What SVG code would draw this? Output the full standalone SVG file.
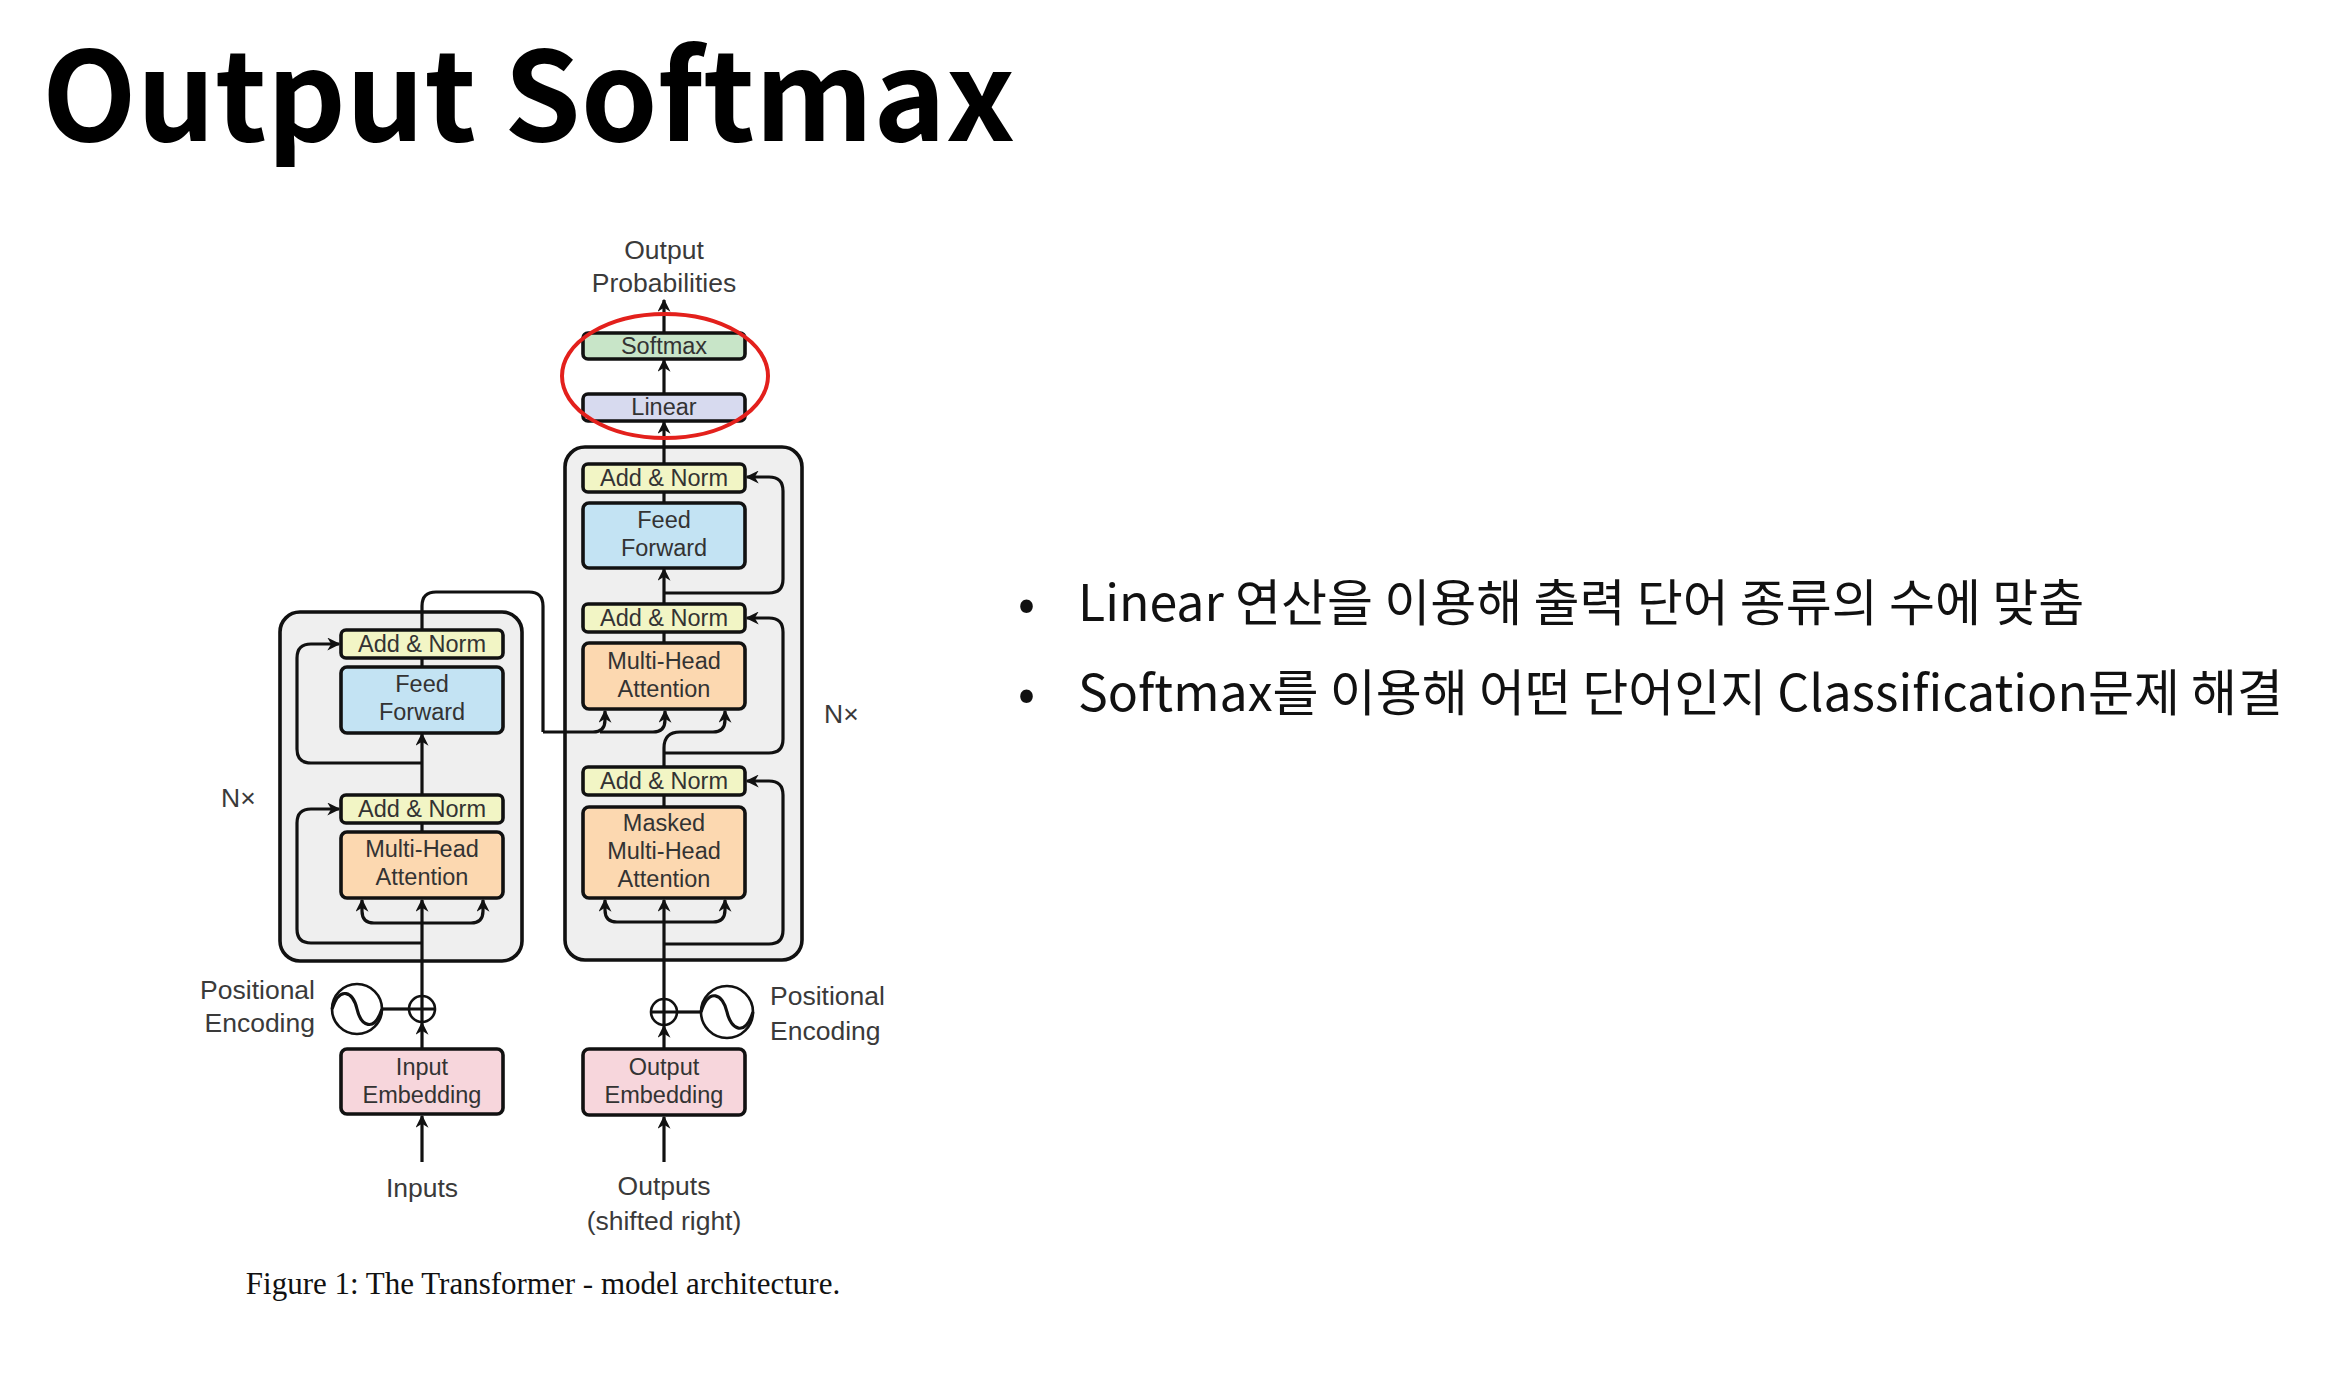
<svg xmlns="http://www.w3.org/2000/svg" width="2345" height="1385" viewBox="0 0 2345 1385">
  <style>
    .title { font-family: "Noto Sans CJK KR", "Noto Sans", sans-serif; font-weight: 700; font-size: 123px; fill: #000; }
    .bullet { font-family: "Noto Sans CJK KR", "Noto Sans", sans-serif; font-size: 50px; fill: #111; }
    .lbl { font-family: "Liberation Sans", Arial, sans-serif; font-size: 26.5px; fill: #3a3a3a; }
    .bx { font-family: "Liberation Sans", Arial, sans-serif; font-size: 23.5px; fill: #333; text-anchor: middle; }
    .cap { font-family: "Liberation Serif", "Times New Roman", serif; font-size: 31px; fill: #111; text-anchor: middle; }
    .box { stroke: #111; stroke-width: 3.6; }
    .outer { fill: #efefef; stroke: #111; stroke-width: 3.6; }
    .addnorm { fill: #f2f5c5; }
    .ff { fill: #c3e3f3; }
    .mha { fill: #fcd8b0; }
    .emb { fill: #f7d6dc; }
    .soft { fill: #c8e5c8; }
    .lin { fill: #d7daef; }
    .wire { fill: none; stroke: #111; stroke-width: 3.2; }
    .arr { fill: none; stroke: #111; stroke-width: 3.2; marker-end: url(#ah); }
    .circ { fill: #fff; stroke: #111; stroke-width: 2.6; }
  </style>
  <defs>
    <marker id="ah" viewBox="0 0 10 10" refX="9" refY="5" markerWidth="13" markerHeight="13" markerUnits="userSpaceOnUse" orient="auto">
      <path d="M0,0 L10,5 L0,10 L3,5 z" fill="#111"/>
    </marker>
  </defs>

  <rect width="2345" height="1385" fill="#fff"/>

  <!-- heading -->
  <text class="title" x="42" y="141">Output Softmax</text>

  <!-- bullet notes -->
  <g id="notes">
    <text class="bullet" x="1018" y="621">•</text>
    <text class="bullet" x="1078" y="621">Linear 연산을 이용해 출력 단어 종류의 수에 맞춤</text>
    <text class="bullet" x="1018" y="711">•</text>
    <text class="bullet" x="1078" y="711">Softmax를 이용해 어떤 단어인지 Classification문제 해결</text>
  </g>

  <!-- stack frames -->
  <g id="encoder-stack"><rect class="outer" x="280" y="612" width="242" height="349" rx="20"/></g>
  <g id="decoder-stack"><rect class="outer" x="565" y="447" width="237" height="513" rx="20"/></g>

  <!-- connectors -->
  <g id="connectors">
    <!-- decoder head -->
    <line class="arr" x1="664" y1="333" x2="664" y2="300"/>
    <line class="arr" x1="664" y1="394" x2="664" y2="360"/>
    <line class="arr" x1="664" y1="464" x2="664" y2="422"/>
    <line class="wire" x1="664" y1="503" x2="664" y2="492"/>
    <line class="arr" x1="664" y1="604" x2="664" y2="569"/>
    <line class="wire" x1="664" y1="643" x2="664" y2="632"/>
    <line class="wire" x1="664" y1="807" x2="664" y2="795"/>
    <!-- decoder residuals -->
    <path class="arr" d="M664 593 H769 Q783 593 783 579 V491 Q783 477 769 477 H747"/>
    <path class="arr" d="M664 753 H769 Q783 753 783 739 V632 Q783 618 769 618 H747"/>
    <path class="arr" d="M664 944 H769 Q783 944 783 930 V795 Q783 781 769 781 H747"/>
    <!-- decoder self-attention inputs -->
    <path class="arr" d="M664 999 V900"/>
    <path class="arr" d="M640 922 H617 Q605 922 605 910 V900"/>
    <path class="arr" d="M640 922 H713 Q725 922 725 910 V900"/>
    <!-- decoder cross-attention inputs -->
    <path class="arr" d="M664 767 V748 Q664 732 680 732 H713 Q725 732 725 720 V711"/>
    <path class="arr" d="M543 732 H593 Q605 732 605 720 V711"/>
    <path class="arr" d="M600 732 H653 Q665 732 665 720 V711"/>
    <!-- encoder output to decoder -->
    <path class="wire" d="M422 630 V606 Q422 592 436 592 H529 Q543 592 543 606 V732"/>
    <!-- encoder body -->
    <line class="wire" x1="422" y1="667" x2="422" y2="658"/>
    <line class="arr" x1="422" y1="795" x2="422" y2="734"/>
    <line class="wire" x1="422" y1="832" x2="422" y2="823"/>
    <path class="arr" d="M422 763 H311 Q297 763 297 749 V658 Q297 644 311 644 H339"/>
    <path class="arr" d="M422 943 H311 Q297 943 297 929 V823 Q297 809 311 809 H339"/>
    <path class="arr" d="M422 996 V900"/>
    <path class="arr" d="M400 923 H374 Q362 923 362 911 V900"/>
    <path class="arr" d="M400 923 H471 Q483 923 483 911 V900"/>
    <!-- embeddings and inputs -->
    <line class="arr" x1="422" y1="1049" x2="422" y2="1023"/>
    <line class="arr" x1="664" y1="1049" x2="664" y2="1026"/>
    <line class="arr" x1="422" y1="1162" x2="422" y2="1116"/>
    <line class="arr" x1="664" y1="1162" x2="664" y2="1117"/>
    <line class="wire" x1="382" y1="1009" x2="409" y2="1009"/>
    <line class="wire" x1="677" y1="1012" x2="701" y2="1012"/>
  </g>

  <!-- decoder head -->
  <g id="softmax"><rect class="box soft" x="583" y="333" width="162" height="26" rx="5"/><text class="bx" x="664" y="354">Softmax</text></g>
  <g id="linear"><rect class="box lin" x="583" y="394" width="162" height="27" rx="5"/><text class="bx" x="664" y="415">Linear</text></g>

  <!-- decoder layer -->
  <g id="dec-addnorm-3"><rect class="box addnorm" x="583" y="464" width="162" height="28" rx="5"/><text class="bx" x="664" y="486">Add &amp; Norm</text></g>
  <g id="dec-feed-forward"><rect class="box ff" x="583" y="503" width="162" height="65" rx="6"/><text class="bx" x="664" y="528">Feed</text><text class="bx" x="664" y="556">Forward</text></g>
  <g id="dec-addnorm-2"><rect class="box addnorm" x="583" y="604" width="162" height="28" rx="5"/><text class="bx" x="664" y="626">Add &amp; Norm</text></g>
  <g id="dec-cross-attention"><rect class="box mha" x="583" y="643" width="162" height="66" rx="6"/><text class="bx" x="664" y="669">Multi-Head</text><text class="bx" x="664" y="697">Attention</text></g>
  <g id="dec-addnorm-1"><rect class="box addnorm" x="583" y="767" width="162" height="28" rx="5"/><text class="bx" x="664" y="789">Add &amp; Norm</text></g>
  <g id="dec-masked-attention"><rect class="box mha" x="583" y="807" width="162" height="91" rx="6"/><text class="bx" x="664" y="831">Masked</text><text class="bx" x="664" y="859">Multi-Head</text><text class="bx" x="664" y="887">Attention</text></g>

  <!-- encoder layer -->
  <g id="enc-addnorm-2"><rect class="box addnorm" x="341" y="630" width="162" height="28" rx="5"/><text class="bx" x="422" y="652">Add &amp; Norm</text></g>
  <g id="enc-feed-forward"><rect class="box ff" x="341" y="667" width="162" height="66" rx="6"/><text class="bx" x="422" y="692">Feed</text><text class="bx" x="422" y="720">Forward</text></g>
  <g id="enc-addnorm-1"><rect class="box addnorm" x="341" y="795" width="162" height="28" rx="5"/><text class="bx" x="422" y="817">Add &amp; Norm</text></g>
  <g id="enc-attention"><rect class="box mha" x="341" y="832" width="162" height="66" rx="6"/><text class="bx" x="422" y="857">Multi-Head</text><text class="bx" x="422" y="885">Attention</text></g>

  <!-- embeddings -->
  <g id="input-embedding"><rect class="box emb" x="341" y="1049" width="162" height="65" rx="6"/><text class="bx" x="422" y="1075">Input</text><text class="bx" x="422" y="1103">Embedding</text></g>
  <g id="output-embedding"><rect class="box emb" x="583" y="1049" width="162" height="66" rx="6"/><text class="bx" x="664" y="1075">Output</text><text class="bx" x="664" y="1103">Embedding</text></g>

  <!-- positional encodings -->
  <g id="enc-pos-add"><circle class="circ" cx="422" cy="1009" r="13"/><path class="wire" stroke-width="2.4" d="M409 1009 H435 M422 996 V1022"/></g>
  <g id="enc-pos-enc"><circle class="circ" cx="357" cy="1009" r="25"/><path class="wire" stroke-width="2.4" d="M332 1009 C340 985 353 992 357 1009 C361 1026 374 1033 382 1009"/></g>
  <g id="dec-pos-add"><circle class="circ" cx="664" cy="1012" r="13"/><path class="wire" stroke-width="2.4" d="M651 1012 H677 M664 999 V1025"/></g>
  <g id="dec-pos-enc"><circle class="circ" cx="727" cy="1012" r="26"/><path class="wire" stroke-width="2.4" d="M701 1012 C709 987 723 994 727 1012 C731 1030 745 1037 753 1012"/></g>

  <!-- free labels -->
  <g id="labels">
    <text class="lbl" x="664" y="259" text-anchor="middle">Output</text>
    <text class="lbl" x="664" y="292" text-anchor="middle">Probabilities</text>
    <text class="lbl" x="824" y="723">N×</text>
    <text class="lbl" x="221" y="807">N×</text>
    <text class="lbl" x="315" y="999" text-anchor="end">Positional</text>
    <text class="lbl" x="315" y="1032" text-anchor="end">Encoding</text>
    <text class="lbl" x="770" y="1005">Positional</text>
    <text class="lbl" x="770" y="1040">Encoding</text>
    <text class="lbl" x="422" y="1197" text-anchor="middle">Inputs</text>
    <text class="lbl" x="664" y="1195" text-anchor="middle">Outputs</text>
    <text class="lbl" x="664" y="1230" text-anchor="middle">(shifted right)</text>
  </g>

  <!-- highlight around the output head -->
  <ellipse id="highlight" cx="665" cy="376" rx="103" ry="62" fill="none" stroke="#e3201c" stroke-width="4"/>

  <text class="cap" x="543" y="1294">Figure 1: The Transformer - model architecture.</text>
</svg>
